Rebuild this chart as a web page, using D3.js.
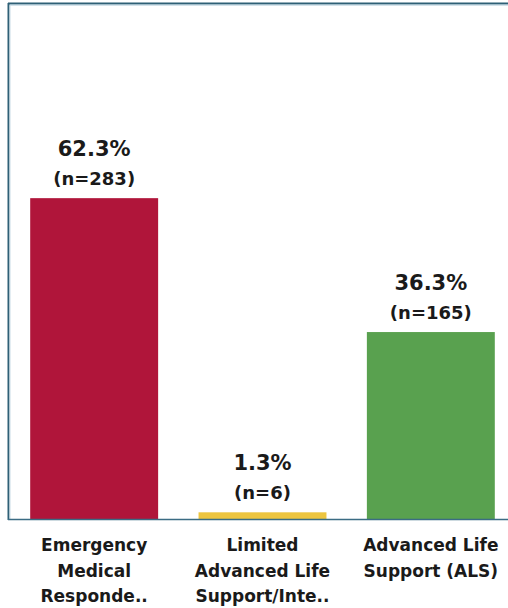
<!DOCTYPE html>
<html>
<head>
<meta charset="utf-8">
<script src="https://cdn.jsdelivr.net/npm/d3@7"></script>
<style>
  body { margin: 0; background: #fff; }
  svg { display: block; font-family: "DejaVu Sans", "Noto Sans", sans-serif; }
</style>
</head>
<body>
<div id="chart"></div>
<script>
// data
var categories = ["Emergency Medical Responde..", "Limited Advanced Life Support/Inte..", "Advanced Life Support (ALS)"];
var labelLines = [["Emergency", "Medical", "Responde.."], ["Limited", "Advanced Life", "Support/Inte.."], ["Advanced Life", "Support (ALS)"]];
var percents = [62.3, 1.3, 36.3];
var counts = [283, 6, 165];
var colors = ["#b0153a", "#edc53f", "#59a14f"];

var svgWidth = 508;
var svgHeight = 608;

var margin = { top: 4, right: 0, bottom: 89, left: 9 };

var svg = d3.select("#chart")
  .append("svg")
  .attr("width", svgWidth)
  .attr("height", svgHeight);

var xScale = d3.scaleBand()
  .domain(categories)
  .range([10, 515])
  .paddingInner(0.24)
  .paddingOuter(0.12);

var yScale = d3.scaleLinear()
  .domain([0, 100])
  .range([svgHeight - margin.bottom, svgHeight - margin.bottom - 515]);

var rows = categories.map(function(c, i) {
  return { cat: c, pct: percents[i], n: counts[i], color: colors[i], lines: labelLines[i] };
});

// bars
svg.append("g").selectAll("rect")
  .data(rows)
  .enter()
  .append("rect")
  .attr("x", d => xScale(d.cat))
  .attr("y", d => yScale(d.pct))
  .attr("width", xScale.bandwidth())
  .attr("height", d => yScale(0) - yScale(d.pct))
  .attr("fill", d => d.color);

// frame lines (top, left, bottom)
var frame = svg.append("g");
frame.append("line").attr("x1", 8).attr("x2", svgWidth).attr("y1", 3.5).attr("y2", 3.5)
  .attr("stroke", "#2f6076").attr("stroke-width", 2);
frame.append("line").attr("x1", 9).attr("x2", svgWidth).attr("y1", 5).attr("y2", 5)
  .attr("stroke", "#a9c6d6").attr("stroke-width", 1);
frame.append("line").attr("x1", 8.5).attr("x2", 8.5).attr("y1", 3).attr("y2", yScale(0) + 1)
  .attr("stroke", "#2f6076").attr("stroke-width", 2);
frame.append("line").attr("x1", 10).attr("x2", 10).attr("y1", 5).attr("y2", yScale(0))
  .attr("stroke", "#c9dbe5").attr("stroke-width", 1);
frame.append("line").attr("x1", 8).attr("x2", svgWidth).attr("y1", yScale(0) + 0.5).attr("y2", yScale(0) + 0.5)
  .attr("stroke", "#3b6c84").attr("stroke-width", 1.5);

// value labels
var labels = svg.append("g").selectAll("g")
  .data(rows)
  .enter()
  .append("g")
  .attr("transform", d => `translate(${xScale(d.cat) + xScale.bandwidth() / 2}, ${yScale(d.pct)})`);

labels.append("text")
  .attr("y", -42)
  .attr("text-anchor", "middle")
  .attr("font-size", "21px")
  .attr("font-weight", "bold")
  .attr("fill", "#1a1a1a")
  .text(d => d.pct.toFixed(1) + "%");

labels.append("text")
  .attr("y", -13)
  .attr("text-anchor", "middle")
  .attr("font-size", "18px")
  .attr("font-weight", "bold")
  .attr("fill", "#1a1a1a")
  .text(d => "(n=" + d.n + ")");

// category labels
var catLabels = svg.append("g").selectAll("text")
  .data(rows)
  .enter()
  .append("text")
  .attr("text-anchor", "middle")
  .attr("font-size", "17px")
  .attr("font-weight", "bold")
  .attr("fill", "#1a1a1a");

catLabels.selectAll("tspan")
  .data(d => d.lines.map(l => ({ line: l, cat: d.cat })))
  .enter()
  .append("tspan")
  .attr("x", d => xScale(d.cat) + xScale.bandwidth() / 2)
  .attr("y", (d, i) => 551 + i * 25.5)
  .text(d => d.line);
</script>
</body>
</html>
